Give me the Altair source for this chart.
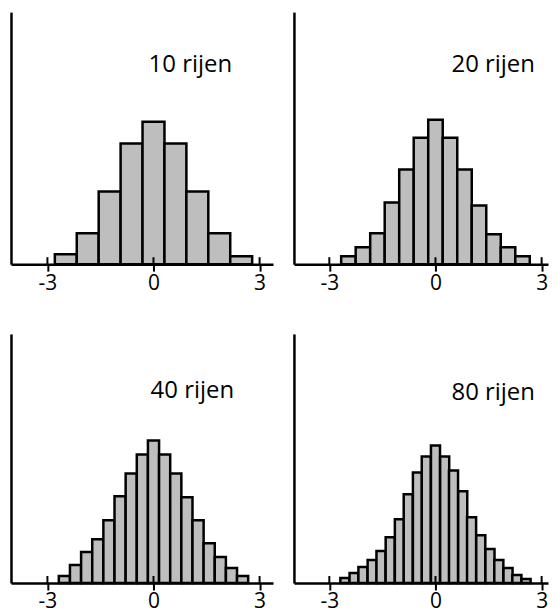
import altair as alt
import pandas as pd

# ---- data (bin centres in standard units, relative bar heights) ----
titles = ["10 rijen", "20 rijen", "40 rijen", "80 rijen"]

centers_10 = [-2.48, -1.86, -1.24, -0.62, 0.0, 0.62, 1.24, 1.86, 2.48]
heights_10 = [10, 31, 73, 121, 143, 121, 73, 31, 8]
binwidth_10 = 0.62

centers_20 = [-2.46, -2.05, -1.64, -1.23, -0.82, -0.41, 0.0, 0.41, 0.82, 1.23, 1.64, 2.05, 2.46]
heights_20 = [8, 17, 31, 62, 95, 127, 145, 127, 95, 59, 30, 17, 8]
binwidth_20 = 0.41

centers_40 = [-2.52, -2.205, -1.89, -1.575, -1.26, -0.945, -0.63, -0.315, 0.0,
              0.315, 0.63, 0.945, 1.26, 1.575, 1.89, 2.205, 2.52]
heights_40 = [7, 18, 31, 44, 63, 87, 110, 129, 143, 129, 110, 86, 63, 40, 26, 15, 7]
binwidth_40 = 0.315

centers_80 = [-2.56, -2.30, -2.05, -1.79, -1.54, -1.28, -1.02, -0.77, -0.51, -0.26, 0.0,
              0.26, 0.51, 0.77, 1.02, 1.28, 1.54, 1.79, 2.05, 2.30, 2.56]
heights_80 = [5, 10, 16, 23, 32, 46, 64, 89, 111, 127, 138, 127, 113, 92, 66, 48, 34, 23, 15, 8, 4]
binwidth_80 = 0.256

tick_values = [-3, 0, 3]

FONT = "Open Sans"


def panel(centers, heights, binwidth, title, width, height, xdomain, text_x, text_y):
    df = pd.DataFrame({"c": centers, "h": heights})
    df["x0"] = df["c"] - binwidth / 2
    df["x1"] = df["c"] + binwidth / 2

    xs = alt.Scale(domain=xdomain, nice=False, zero=False)
    ys = alt.Scale(domain=[0, height], nice=False, zero=True)

    xaxis = alt.Axis(
        values=tick_values, title=None, grid=False,
        domainColor="black", domainWidth=2.5,
        tickColor="black", tickWidth=2, tickSize=7,
        labelFontSize=21, labelColor="black", labelFont=FONT,
        labelPadding=1, labelFlush=False,
        labelExpr="'' + datum.value", zindex=1,
    )
    yaxis = alt.Axis(title=None, ticks=False, labels=False, grid=False,
                     domainColor="black", domainWidth=2.5, zindex=1)

    bars = alt.Chart(df).mark_rect(
        fill="#bebebe", stroke="black", strokeWidth=2.5
    ).encode(
        x=alt.X("x0:Q", scale=xs, axis=xaxis),
        x2="x1:Q",
        y=alt.Y("h:Q", scale=ys, axis=yaxis),
        y2=alt.datum(0),
    )

    up_ticks = alt.Chart(pd.DataFrame({"t": tick_values})).mark_rule(
        color="black", strokeWidth=2
    ).encode(
        x=alt.X("t:Q", scale=xs, axis=xaxis),
        y=alt.value(height - 7),
        y2=alt.value(height),
    )

    label = alt.Chart(pd.DataFrame({"label": [title]})).mark_text(
        font=FONT, fontSize=24, color="black", align="center", baseline="middle"
    ).encode(
        text="label:N",
        x=alt.value(text_x),
        y=alt.value(text_y),
    )

    return alt.layer(bars, up_ticks, label).properties(width=width, height=height)


tl = panel(centers_10, heights_10, binwidth_10, titles[0], 263, 253, [-4.03, 3.38], 180, 53)
tr = panel(centers_20, heights_20, binwidth_20, titles[1], 255, 253, [-4.0, 3.18], 200, 53)
bl = panel(centers_40, heights_40, binwidth_40, titles[2], 263, 250, [-4.03, 3.38], 182, 57)
br = panel(centers_80, heights_80, binwidth_80, titles[3], 255, 250, [-4.0, 3.18], 200, 59)

chart = alt.concat(
    tl, tr, bl, br, columns=2,
    spacing=alt.RowColnumber(row=70, column=21),
    bounds="flush",
).properties(
    padding={"left": 2, "top": 2, "right": 0, "bottom": 0},
    background="white",
).configure_view(stroke="transparent")

chart.save("out.html", embed_options={"renderer": "svg", "actions": False})
